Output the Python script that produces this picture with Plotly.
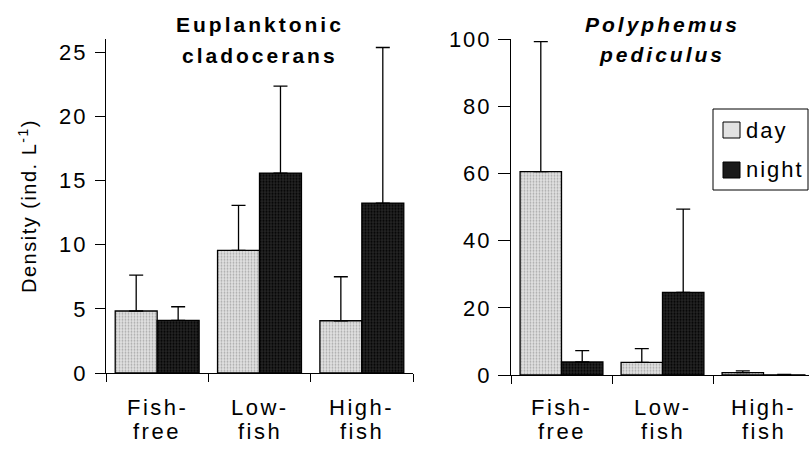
import plotly.graph_objects as go

# Treatment categories (two-line labels under each group)
categories = ["Fish-free", "Low-fish", "High-fish"]
label_top = ["Fish-", "Low-", "High-"]
label_bottom = ["free", "fish", "fish"]
series_names = ["day", "night"]

# Euplanktonic cladocerans: mean density and +1 SD (ind. L-1)
eup_day = [4.83, 9.55, 4.07]
eup_day_sd = [2.80, 3.51, 3.43]
eup_night = [4.10, 15.58, 13.24]
eup_night_sd = [1.06, 6.77, 12.12]

# Polyphemus pediculus: mean density and +1 SD (ind. L-1)
pol_day = [60.6, 3.77, 0.70]
pol_day_sd = [38.7, 4.08, 0.50]
pol_night = [3.87, 24.6, 0.05]
pol_night_sd = [3.38, 24.8, 0.10]

eup_ticks = [0, 5, 10, 15, 20, 25]
pol_ticks = [0, 20, 40, 60, 80, 100]

W, H = 809, 453
FONT = "Liberation Sans, Arial, sans-serif"


def fx(p):
    return p / W


def fy(p):
    return 1 - p / H


def spaced(text, px=2.5):
    """Wrap text in a span with extra letter spacing."""
    return f'<span style="letter-spacing:{px}px">{text}</span>'


DAY_FILL, NIGHT_FILL = "#e2e2e2", "#252525"
DAY_STYLE = dict(color=DAY_FILL, line=dict(color="black", width=1.3),
                 pattern=dict(shape=".", bgcolor=DAY_FILL, fgcolor="#a8a8a8",
                              size=3, solidity=0.3, fillmode="replace"))
NIGHT_STYLE = dict(color=NIGHT_FILL, line=dict(color="black", width=1.3),
                   pattern=dict(shape=".", bgcolor=NIGHT_FILL, fgcolor="#000000",
                                size=3, solidity=0.4, fillmode="replace"))


def err(sd):
    return dict(type="data", array=sd, arrayminus=[0] * len(sd), symmetric=False,
                color="black", thickness=1.3, width=7)


fig = go.Figure()
fig.add_trace(go.Bar(x=categories, y=eup_day, name=series_names[0], marker=DAY_STYLE,
                     error_y=err(eup_day_sd), xaxis="x", yaxis="y"))
fig.add_trace(go.Bar(x=categories, y=eup_night, name=series_names[1], marker=NIGHT_STYLE,
                     error_y=err(eup_night_sd), xaxis="x", yaxis="y"))
fig.add_trace(go.Bar(x=categories, y=pol_day, name=series_names[0], marker=DAY_STYLE,
                     error_y=err(pol_day_sd), xaxis="x2", yaxis="y2"))
fig.add_trace(go.Bar(x=categories, y=pol_night, name=series_names[1], marker=NIGHT_STYLE,
                     error_y=err(pol_night_sd), xaxis="x2", yaxis="y2"))

xcommon = dict(type="category", showline=True, linecolor="black", linewidth=1,
               ticks="outside", tickson="boundaries", ticklen=8, tickcolor="black",
               showticklabels=False, showgrid=False, zeroline=False, fixedrange=True,
               automargin=False)
ycommon = dict(showline=True, linecolor="black", linewidth=1, ticks="outside",
               tickcolor="black", showgrid=False, zeroline=False,
               tickfont=dict(family=FONT, size=22, color="black"),
               automargin=False)

# Panel width in pixels per category (right panel runs past the page edge)
cat_px = (814 - 511) / 3

fig.update_layout(
    template="none",
    width=W, height=H,
    margin=dict(l=0, r=0, t=0, b=0, pad=0, autoexpand=False),
    paper_bgcolor="white", plot_bgcolor="white",
    barmode="group", bargap=0.18, bargroupgap=0,
    font=dict(family=FONT, color="black"),
    showlegend=False,
    xaxis=dict(xcommon, domain=[fx(106), fx(413)], range=[-0.5, 2.5], anchor="y"),
    yaxis=dict(ycommon, domain=[fy(373), fy(39.3)], range=[0, 26], tickvals=eup_ticks,
               ticktext=[spaced(str(v), 2) for v in eup_ticks], ticklen=10,
               ticklabelstandoff=3, anchor="x"),
    xaxis2=dict(xcommon, domain=[fx(511), 1], range=[-0.5, -0.5 + (W - 511) / cat_px],
                anchor="y2"),
    yaxis2=dict(ycommon, domain=[fy(375), fy(39.3)], range=[0, 100], tickvals=pol_ticks,
                ticktext=[spaced(str(v), 2) for v in pol_ticks], ticklen=12,
                ticklabelstandoff=2, anchor="x2"),
)

ann = []
shapes = []

# Category labels under both panels
LABEL_FONT = dict(family=FONT, size=22, color="black")
for xa in ["x", "x2"]:
    for c, t, b in zip(categories, label_top, label_bottom):
        ann.append(dict(x=c, xref=xa, y=fy(407), yref="paper", text=spaced(t),
                        showarrow=False, xanchor="center", yanchor="middle",
                        font=LABEL_FONT))
        ann.append(dict(x=c, xref=xa, y=fy(431), yref="paper", text=spaced(b),
                        showarrow=False, xanchor="center", yanchor="middle",
                        font=LABEL_FONT))

# Panel titles
TITLE_FONT = dict(family=FONT, size=21, color="black")
titles = [
    (260, 25, "<b>Euplanktonic</b>"),
    (260, 56, "<b>cladocerans</b>"),
    (662, 25, "<b><i>Polyphemus</i></b>"),
    (662, 55, "<b><i>pediculus</i></b>"),
]
for x, y, txt in titles:
    ann.append(dict(x=fx(x), y=fy(y), xref="paper", yref="paper", text=spaced(txt, 3),
                    showarrow=False, xanchor="center", yanchor="middle", font=TITLE_FONT))

# Y-axis title
ann.append(dict(x=fx(27), y=fy(206), xref="paper", yref="paper",
                text=spaced("Density (ind. L<sup>-1</sup>)", 1.5), textangle=-90,
                showarrow=False, xanchor="center", yanchor="middle",
                font=dict(family=FONT, size=20, color="black")))

# Legend box with swatches for day / night
shapes.append(dict(type="rect", xref="paper", yref="paper",
                   x0=fx(713), x1=fx(808), y0=fy(190), y1=fy(109),
                   line=dict(color="black", width=1), fillcolor="white", layer="above"))
for i, (name, fill) in enumerate(zip(series_names, [DAY_FILL, "#1a1a1a"])):
    cy = 130 + 40 * i
    shapes.append(dict(type="rect", xref="paper", yref="paper",
                       x0=fx(723), x1=fx(740), y0=fy(cy + 8), y1=fy(cy - 8),
                       line=dict(color="black", width=1), fillcolor=fill, layer="above"))
    ann.append(dict(x=fx(744), y=fy(cy), xref="paper", yref="paper", text=spaced(name, 2),
                    showarrow=False, xanchor="left", yanchor="middle",
                    font=dict(family=FONT, size=22, color="black")))

fig.update_layout(annotations=ann, shapes=shapes)

fig.write_html("out.html")
